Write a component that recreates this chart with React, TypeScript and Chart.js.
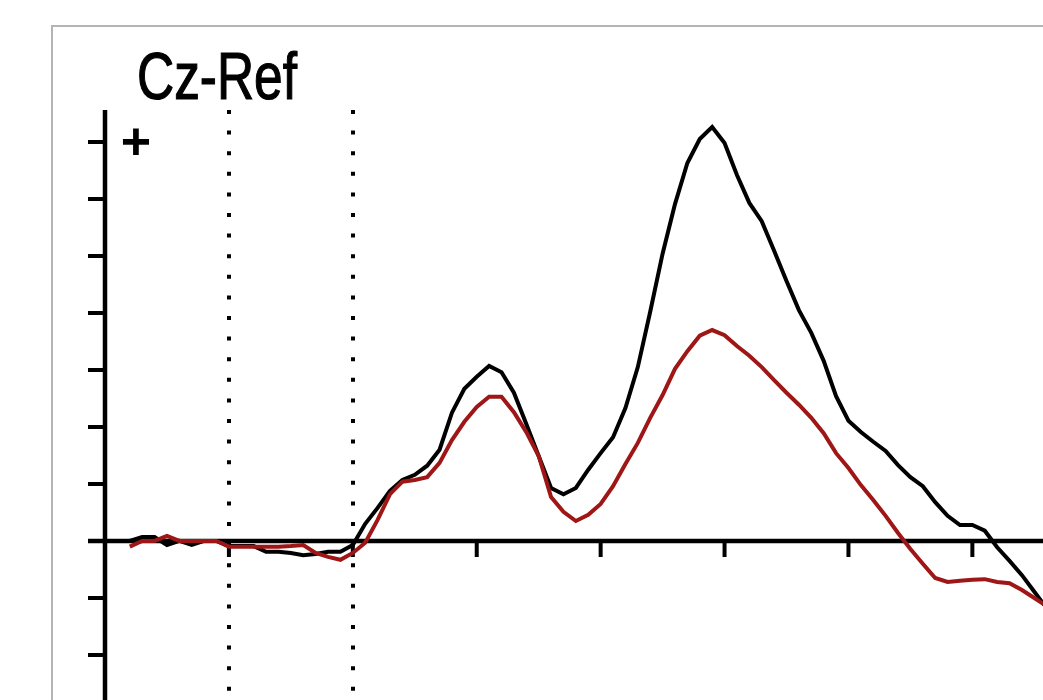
import { useEffect, useRef } from "react";
import { Chart, registerables } from "chart.js";

Chart.register(...registerables);

// Averaged ERP at Cz (ms after stimulus onset, µV)
const times = [
  -180, -170, -160, -150, -140, -130, -120, -110, -100, -90, -80, -70, -60, -50, -40, -30, -20, -10,
  0, 10, 20, 30, 40, 50, 60, 70, 80, 90, 100, 110, 120, 130, 140, 150, 160, 170, 180, 190,
  200, 210, 220, 230, 240, 250, 260, 270, 280, 290, 300, 310, 320, 330, 340, 350, 360, 370,
  380, 390, 400, 410, 420, 430, 440, 450, 460, 470, 480, 490, 500, 510, 520, 530, 540, 550, 560,
];

const targetUv = [
  0, 0.07, 0.07, -0.07, 0, -0.07, 0, 0, -0.09, -0.09, -0.09, -0.19, -0.19, -0.21, -0.25, -0.23, -0.19, -0.19,
  -0.07, 0.3, 0.58, 0.88, 1.07, 1.16, 1.32, 1.6, 2.25, 2.67, 2.88, 3.07, 2.96, 2.6, 2.05, 1.49, 0.93, 0.82, 0.93, 1.25,
  1.54, 1.82, 2.33, 3.05, 4.02, 5.04, 5.91, 6.63, 7.05, 7.26, 6.98, 6.42, 5.93, 5.61, 5.09, 4.56, 4.05, 3.65,
  3.16, 2.54, 2.11, 1.91, 1.74, 1.58, 1.33, 1.12, 0.96, 0.68, 0.44, 0.28, 0.28, 0.18, -0.11, -0.35, -0.6, -0.89, -1.18,
];

const standardUv = [
  -0.1, 0, 0, 0.09, 0, 0, 0, 0, -0.1, -0.1, -0.1, -0.1, -0.1, -0.09, -0.07, -0.21, -0.28, -0.33,
  -0.21, -0.03, 0.37, 0.82, 1.04, 1.07, 1.12, 1.37, 1.77, 2.09, 2.35, 2.53, 2.53, 2.26, 1.91, 1.49, 0.77, 0.51, 0.35, 0.46,
  0.65, 0.96, 1.35, 1.72, 2.16, 2.56, 3.02, 3.33, 3.6, 3.7, 3.61, 3.42, 3.25, 3.05, 2.82, 2.6, 2.39, 2.16,
  1.89, 1.54, 1.28, 0.98, 0.72, 0.44, 0.14, -0.14, -0.4, -0.65, -0.72, -0.7, -0.68, -0.67, -0.72, -0.74, -0.86, -1.0, -1.14,
];

const xTicks = [-100, 0, 100, 200, 300, 400, 500];
const yTicks = [-2, -1, 1, 2, 3, 4, 5, 6, 7];
const baselineMarkers = [-100, 0];
const channelLabel = "Cz-Ref";
const polarityLabel = "+";

const erpDecor = {
  id: "erpDecor",
  beforeDraw(chart: any) {
    const { ctx, width, height } = chart;
    ctx.save();
    ctx.fillStyle = "#ffffff";
    ctx.fillRect(0, 0, width, height);
    // panel frame
    ctx.strokeStyle = "#b4b4b4";
    ctx.lineWidth = 2;
    ctx.strokeRect(52, 26, width + 20, height + 20);
    ctx.restore();
  },
  beforeDatasetsDraw(chart: any) {
    const { ctx, chartArea } = chart;
    const xs = chart.scales.x;
    const ys = chart.scales.y;
    const y0 = ys.getPixelForValue(0);
    const xAxis = xs.getPixelForValue(xs.min);
    ctx.save();

    // dotted baseline window
    ctx.strokeStyle = "#000";
    ctx.lineWidth = 4;
    ctx.setLineDash([4, 16.6]);
    for (const t of baselineMarkers) {
      const px = Math.round(xs.getPixelForValue(t));
      ctx.beginPath();
      ctx.moveTo(px, chartArea.top);
      ctx.lineTo(px, chartArea.bottom);
      ctx.stroke();
    }
    ctx.setLineDash([]);

    // axes
    ctx.lineWidth = 4.5;
    ctx.lineCap = "butt";
    ctx.beginPath();
    ctx.moveTo(xAxis, chartArea.top);
    ctx.lineTo(xAxis, chartArea.bottom);
    ctx.moveTo(xAxis - 17, y0);
    ctx.lineTo(chartArea.right, y0);
    ctx.stroke();
    ctx.lineWidth = 4;
    ctx.beginPath();
    for (const v of yTicks) {
      const py = ys.getPixelForValue(v);
      ctx.moveTo(xAxis - 17, py);
      ctx.lineTo(xAxis, py);
    }
    for (const t of xTicks) {
      const px = xs.getPixelForValue(t);
      ctx.moveTo(px, y0);
      ctx.lineTo(px, y0 + 16);
    }
    ctx.stroke();

    // channel name and polarity sign
    ctx.fillStyle = "#000";
    ctx.strokeStyle = "#000";
    ctx.textBaseline = "alphabetic";
    ctx.font = "66px 'Liberation Sans', Arial, sans-serif";
    const w = ctx.measureText(channelLabel).width;
    ctx.save();
    ctx.translate(137, 99);
    ctx.scale(160 / w, 1);
    ctx.lineWidth = 1.2;
    ctx.fillText(channelLabel, 0, 0);
    ctx.strokeText(channelLabel, 0, 0);
    ctx.restore();

    ctx.font = "bold 52px 'Liberation Sans', Arial, sans-serif";
    ctx.textAlign = "center";
    ctx.textBaseline = "middle";
    ctx.fillText(polarityLabel, 136, 145);
    ctx.restore();
  },
};

export default function App() {
  const canvasRef = useRef<HTMLCanvasElement | null>(null);

  useEffect(() => {
    const canvas = canvasRef.current;
    if (!canvas) return;
    const chart = new Chart(canvas, {
      type: "line",
      data: {
        datasets: [
          {
            label: "Standard",
            data: times.map((t, i) => ({ x: t, y: standardUv[i] })),
            borderColor: "#9e1616",
            borderWidth: 4,
            pointRadius: 0,
            tension: 0,
          },
          {
            label: "Target",
            data: times.map((t, i) => ({ x: t, y: targetUv[i] })),
            borderColor: "#000000",
            borderWidth: 4,
            pointRadius: 0,
            tension: 0,
          },
        ],
      },
      options: {
        responsive: false,
        animation: false,
        layout: { padding: { left: 105, top: 110, right: 0, bottom: 0 } },
        scales: {
          x: { type: "linear", min: -200, max: 557, display: false },
          y: { type: "linear", min: -2.79, max: 7.56, display: false },
        },
        plugins: {
          legend: { display: false },
          tooltip: { enabled: false },
          title: { display: false },
        },
      },
      plugins: [erpDecor],
    });
    return () => chart.destroy();
  }, []);

  return (
    <div style={{ position: "absolute", left: 0, top: 0, width: 1043, height: 700, overflow: "hidden", background: "#fff" }}>
      <canvas ref={canvasRef} width={1043} height={700} style={{ display: "block", filter: "blur(0.5px)" }} />
    </div>
  );
}
